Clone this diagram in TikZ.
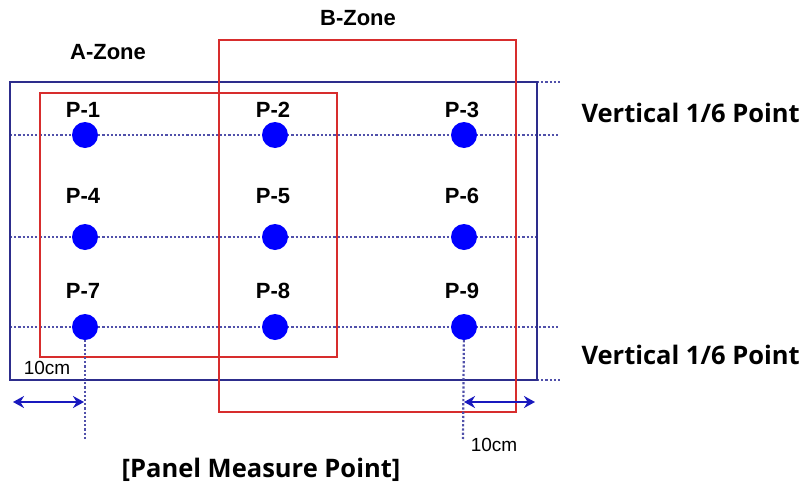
\documentclass[tikz,border=0pt]{standalone}
\usepackage{fontspec}
\usetikzlibrary{arrows.meta}
\newfontfamily\ptfont{Liberation Sans}
\newfontfamily\capfont{Open Sans}
\definecolor{navyline}{RGB}{45,45,140}
\definecolor{zonered}{RGB}{215,45,45}
\definecolor{gridblue}{RGB}{80,80,170}
\definecolor{arrowblue}{RGB}{25,25,190}
\begin{document}
\begin{tikzpicture}[x=1pt,y=-1pt,
    panel/.style={navyline,line width=2.6pt},
    zone/.style={zonered,line width=2.2pt},
    grid/.style={gridblue,dotted,line width=2.2pt},
    spot/.style={circle,fill=blue,inner sep=0pt,minimum size=26pt},
    ptlabel/.style={font=\ptfont\bfseries\fontsize{22}{22}\selectfont},
    cmlabel/.style={font=\ptfont\fontsize{19}{19}\selectfont},
    offset/.style={arrowblue,line width=2.8pt,{Stealth[length=11pt,width=12pt]}-{Stealth[length=11pt,width=12pt]}},
    caption/.style={font=\capfont\bfseries\fontsize{25.5}{25.5}\selectfont}]
  \useasboundingbox (0,0) rectangle (806,490);
  % dotted guide lines
  \coordinate (r1w) at (10,135);  \coordinate (r1e) at (560,135);
  \coordinate (r2w) at (10,237);  \coordinate (r2e) at (537,237);
  \coordinate (r3w) at (10,327);  \coordinate (r3e) at (560,327);
  \coordinate (tw) at (537,82);   \coordinate (te) at (560,82);
  \coordinate (bw) at (537,380);  \coordinate (be) at (560,380);
  \foreach \a/\b in {r1w/r1e,r2w/r2e,r3w/r3e,tw/te,bw/be}
    \draw[grid] (\a) -- (\b);
  % panel and zones
  \draw[panel] (10,82) rectangle (537,380);
  \draw[zone] (40,93) rectangle (337,357);
  \draw[zone] (219,40) rectangle (516,412);
  % measure points
  \foreach \n/\x/\y/\ly in {1/85/135/110,2/275/135/110,3/464/135/110,
                            4/85/237/196,5/275/237/196,6/464/237/196,
                            7/85/327/291,8/275/327/291,9/464/327/291} {
    \node[spot] (p\n) at (\x,\y) {};
    \node[ptlabel] (lp\n) at (\x-2,\ly) {P-\n};
  }
  % 10cm offsets
  \coordinate (dl) at (85,440);
  \coordinate (dr) at (463,440);
  \draw[grid] (p7) -- (dl);
  \draw[grid] (p9) -- (dr);
  \coordinate (al) at (13,402);  \coordinate (ar) at (84,402);
  \coordinate (bl) at (464,402); \coordinate (br) at (535,402);
  \draw[offset] (al) -- (ar);
  \draw[offset] (bl) -- (br);
  \node[cmlabel] (cml) at (47,368) {10cm};
  \node[cmlabel] (cmr) at (494,445) {10cm};
  % texts
  \node[ptlabel] (za) at (108,52) {A-Zone};
  \node[ptlabel] (zb) at (358,18) {B-Zone};
  \node[caption,anchor=west] (v1) at (578,113) {Vertical 1/6 Point};
  \node[caption,anchor=west] (v2) at (578,355) {Vertical 1/6 Point};
  \node[caption] (title) at (261,470) {[Panel Measure Point]};
\end{tikzpicture}
\end{document}
